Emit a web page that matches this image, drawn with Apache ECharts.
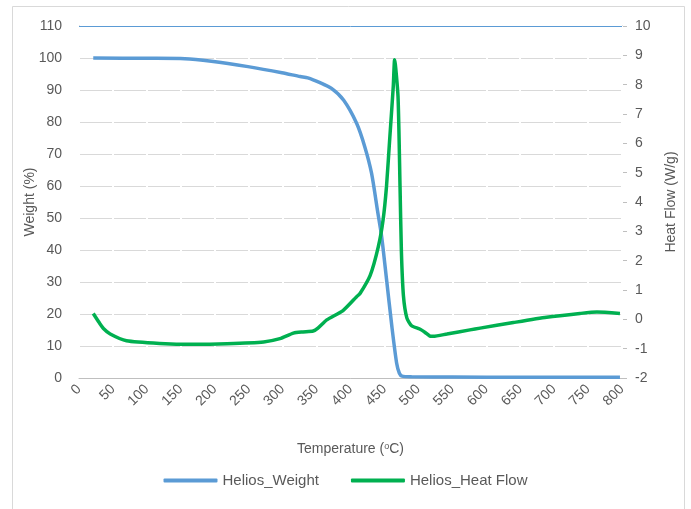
<!DOCTYPE html>
<html>
<head>
<meta charset="utf-8">
<script src="https://cdn.jsdelivr.net/npm/echarts@6/dist/echarts.min.js"></script>
<style>html,body{margin:0;padding:0;background:#fff;}#c{width:691px;height:509px;}</style>
</head>
<body>
<div id="c"></div>
<script>
const weightTemps = [21, 100, 156, 195, 249, 299, 326, 337, 355, 372, 390, 409, 421, 431, 440, 446, 453, 461, 468, 472, 476, 490, 550, 650, 797];
const weightVals  = [100, 99.9, 99.8, 99, 97.3, 95.4, 94.2, 93.8, 92.3, 90.5, 86.8, 79.6, 72.3, 64, 52, 44, 31, 16, 4.6, 1.5, 0.6, 0.4, 0.3, 0.2, 0.2];
const heatTemps = [21, 30, 36, 46, 70, 119, 168, 218, 272, 296, 316, 330, 345, 352, 365, 389, 409, 414, 429, 441, 448, 453, 458, 463, 465, 470, 473, 475, 478, 483, 490, 502, 510, 517, 522, 542, 576, 591, 640, 689, 738, 763, 797];
const heatVals  = [0.2, -0.12, -0.31, -0.5, -0.73, -0.82, -0.85, -0.83, -0.77, -0.66, -0.47, -0.43, -0.4, -0.3, -0.02, 0.3, 0.77, 0.88, 1.5, 2.48, 3.39, 4.52, 6.23, 7.93, 8.85, 7.6, 4.5, 2.3, 0.8, 0.05, -0.22, -0.33, -0.45, -0.57, -0.58, -0.5, -0.36, -0.3, -0.11, 0.07, 0.2, 0.25, 0.2];
const xTicks = {min: 0, max: 800, step: 50};
const leftTicks = {min: 0, max: 110, step: 10};
const rightTicks = {min: -2, max: 10, step: 1};

const FONT = 'Liberation Sans';
const TXT = '#595959';
const chart = echarts.init(document.getElementById('c'));
chart.setOption({
  backgroundColor: '#fff',
  animation: false,
  textStyle: {fontFamily: FONT},
  graphic: [{type: 'rect', shape: {x: 12.5, y: 6.5, width: 672, height: 520}, style: {fill: 'none', stroke: '#d9d9d9', lineWidth: 1}, silent: true}],
  grid: {left: 79, right: 69, top: 26, bottom: 131},
  legend: {
    bottom: 16, left: 'center', itemWidth: 54, itemHeight: 4, itemGap: 32,
    icon: 'roundRect',
    textStyle: {color: TXT, fontSize: 15, fontFamily: FONT},
    data: ['Helios_Weight', 'Helios_Heat Flow']
  },
  xAxis: {
    type: 'value', min: xTicks.min, max: xTicks.max, interval: xTicks.step, z: 1,
    name: '{a|Temperature (}{b|o}{a|C)}', nameLocation: 'middle', nameGap: 64,
    nameTextStyle: {rich: {a: {color: TXT, fontSize: 14, fontFamily: FONT}, b: {color: TXT, fontSize: 9, fontFamily: FONT, verticalAlign: 'top', padding: [0, 0, 6, 0]}}},
    axisLine: {show: true, lineStyle: {color: '#bfbfbf', width: 1}},
    axisTick: {show: false},
    axisLabel: {rotate: 45, color: TXT, fontSize: 14, margin: 9},
    splitLine: {show: true, lineStyle: {color: '#ffffff', width: 2}}
  },
  yAxis: [{
    type: 'value', min: leftTicks.min, max: leftTicks.max, interval: leftTicks.step, position: 'left',
    name: 'Weight (%)', nameLocation: 'middle', nameGap: 42, nameRotate: 90, nameMoveOverlap: false,
    nameTextStyle: {color: TXT, fontSize: 14},
    axisLine: {show: true, lineStyle: {color: '#bfbfbf'}},
    axisTick: {show: false},
    axisLabel: {color: TXT, fontSize: 14, margin: 17},
    splitLine: {show: true, lineStyle: {color: '#d9d9d9', width: 1}}
  }, {
    type: 'value', min: rightTicks.min, max: rightTicks.max, interval: rightTicks.step, position: 'right',
    name: 'Heat Flow (W/g)', nameLocation: 'middle', nameGap: 42, nameRotate: 90, nameMoveOverlap: false,
    nameTextStyle: {color: TXT, fontSize: 14},
    axisLine: {show: true, lineStyle: {color: '#bfbfbf'}},
    axisTick: {show: true, length: 5, lineStyle: {color: '#bfbfbf'}},
    axisLabel: {color: TXT, fontSize: 14, margin: 13},
    splitLine: {show: false}
  }],
  series: [{
    name: 'Helios_Weight', type: 'line', yAxisIndex: 0, showSymbol: false, smooth: 0.25,
    color: '#5B9BD5', lineStyle: {width: 3.5, color: '#5B9BD5'},
    data: weightTemps.map((t, i) => [t, weightVals[i]]),
    markLine: {silent: true, symbol: 'none', label: {show: false}, lineStyle: {color: '#5B9BD5', width: 1, type: 'solid'}, data: [{yAxis: leftTicks.max}]}
  }, {
    name: 'Helios_Heat Flow', type: 'line', yAxisIndex: 1, showSymbol: false, smooth: 0.2,
    color: '#00B050', lineStyle: {width: 3.5, color: '#00B050'},
    data: heatTemps.map((t, i) => [t, heatVals[i]])
  }]
});
</script>
</body>
</html>
